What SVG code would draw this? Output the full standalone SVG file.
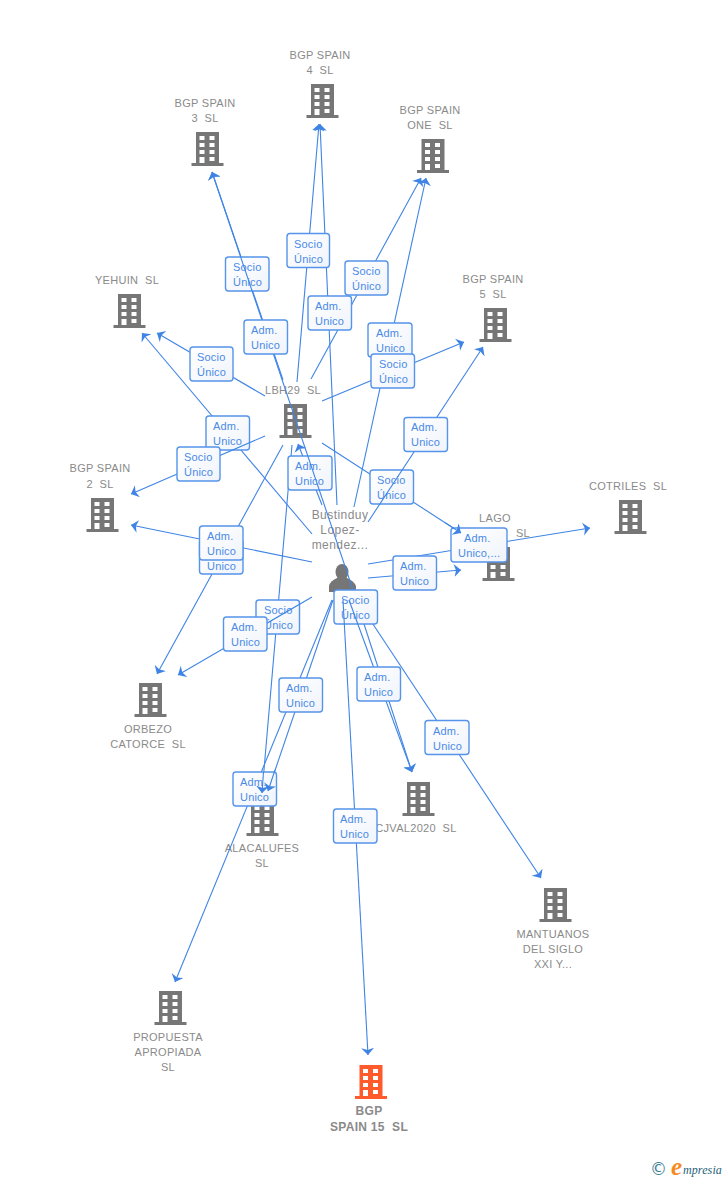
<svg xmlns="http://www.w3.org/2000/svg" width="728" height="1180" viewBox="0 0 728 1180">
<style>
text{font-family:"Liberation Sans",Arial,sans-serif}
.n{font-size:11px;fill:#8a8a8a;text-anchor:middle;white-space:pre;letter-spacing:.3px}
.r{font-size:12px;letter-spacing:.45px}
.h{font-size:12px;font-weight:bold}
.b{fill:#767676}
.o{fill:#ff5a2b}
.e{fill:none;stroke:#3f84e5;stroke-width:1.1;marker-end:url(#a)}
.l rect{fill:url(#g);stroke:#5594ea;stroke-width:1.4}
.l text{font-size:11px;fill:#4a8ae6;letter-spacing:.2px}
</style>
<defs>
<linearGradient id="g" x1="0" y1="0" x2="1" y2="1"><stop offset="0" stop-color="#ffffff"/><stop offset="1" stop-color="#f0f4fb"/></linearGradient>
<marker id="a" markerUnits="userSpaceOnUse" markerWidth="10" markerHeight="14" refX="7" refY="6.5" orient="auto"><path d="M0,0L7,6.500L0,13L2,6.500Z" fill="#3f84e5"/></marker>
<path id="bld" fill-rule="evenodd" d="M-11.500,0H11.500V31H16V34H-16V31H-11.500ZM-8,4h5v4h-5ZM2,4h5v4h-5ZM-8,11h5v4h-5ZM2,11h5v4h-5ZM-8,18h5v4h-5ZM2,18h5v4h-5ZM-8,25h5v6h-5ZM2,25h5v4h-5Z"/>
</defs>

<g id="node-bgp-spain-4"><use href="#bld" class="b" x="322.500" y="84"/><text class="n" x="320" y="59">BGP SPAIN</text><text class="n" x="320" y="74">4  SL</text></g>
<g id="node-bgp-spain-3"><use href="#bld" class="b" x="207.500" y="132"/><text class="n" x="205" y="107">BGP SPAIN</text><text class="n" x="205" y="122">3  SL</text></g>
<g id="node-bgp-spain-one"><use href="#bld" class="b" x="433" y="139"/><text class="n" x="430" y="114">BGP SPAIN</text><text class="n" x="430" y="129">ONE  SL</text></g>
<g id="node-yehuin"><use href="#bld" class="b" x="129.500" y="294"/><text class="n" x="127" y="284">YEHUIN  SL</text></g>
<g id="node-bgp-spain-5"><use href="#bld" class="b" x="495.500" y="308"/><text class="n" x="493" y="283">BGP SPAIN</text><text class="n" x="493" y="298">5  SL</text></g>
<g id="node-lbh29"><use href="#bld" class="b" x="295.500" y="404"/><text class="n" x="293" y="394">LBH29  SL</text></g>
<g id="node-bgp-spain-2"><use href="#bld" class="b" x="102.500" y="498"/><text class="n" x="100" y="472">BGP SPAIN</text><text class="n" x="100" y="488">2  SL</text></g>
<g id="node-cotriles"><use href="#bld" class="b" x="630.500" y="500"/><text class="n" x="628" y="490">COTRILES  SL</text></g>
<g id="node-lago"><use href="#bld" class="b" x="498.500" y="547"/><text class="n" x="495" y="522">LAGO</text><text class="n" x="523" y="537">SL</text></g>
<g id="node-orbezo"><use href="#bld" class="b" x="150.500" y="683"/><text class="n" x="148" y="733">ORBEZO</text><text class="n" x="148" y="748">CATORCE  SL</text></g>
<g id="node-cjval"><use href="#bld" class="b" x="418.500" y="782"/><text class="n" x="416" y="832">CJVAL2020  SL</text></g>
<g id="node-alacalufes"><use href="#bld" class="b" x="262.500" y="802"/><text class="n" x="262" y="852">ALACALUFES</text><text class="n" x="262" y="867">SL</text></g>
<g id="node-mantuanos"><use href="#bld" class="b" x="555.500" y="888"/><text class="n" x="553" y="938">MANTUANOS</text><text class="n" x="553" y="953">DEL SIGLO</text><text class="n" x="553" y="968">XXI Y...</text></g>
<g id="node-propuesta"><use href="#bld" class="b" x="170.500" y="991"/><text class="n" x="168" y="1041">PROPUESTA</text><text class="n" x="168" y="1056">APROPIADA</text><text class="n" x="168" y="1071">SL</text></g>
<g id="node-bgp-spain-15"><use href="#bld" class="o" x="371" y="1065"/><text class="n h" x="369" y="1115">BGP</text><text class="n h" x="369" y="1131">SPAIN 15  SL</text></g>
<g id="node-bustinduy"><ellipse class="b" cx="342" cy="572" rx="6.500" ry="8"/><path class="b" d="M329,592V586Q330,581 337,578H347Q354,581 356,586V592Z"/><text class="n r" x="340" y="519">Bustinduy</text><text class="n r" x="340" y="534">Lopez-</text><text class="n r" x="340" y="549">mendez...</text></g>

<g id="connectors-under">
<line class="e" x1="283" y1="380" x2="212" y2="172"/>
<line class="e" x1="312" y1="534" x2="142" y2="333"/>
<line class="e" x1="322" y1="505" x2="298" y2="444"/>
<line class="e" x1="322" y1="443" x2="461" y2="533"/>
<line class="e" x1="292" y1="445" x2="262" y2="793"/>
<line class="e" x1="352" y1="587" x2="412" y2="772"/>
<line class="e" x1="283" y1="445" x2="157" y2="674"/>
<line class="e" x1="354" y1="507" x2="426" y2="178"/>
<line class="e" x1="355" y1="597" x2="541" y2="878"/>
</g>

<g id="labels-low">
<g class="l"><rect x="225.500" y="257" width="43.500" height="34" rx="3"/><text x="233" y="271">Socio</text><text x="233" y="286">Único</text></g>
<g class="l"><rect x="206" y="416" width="43.500" height="34" rx="3"/><text x="213" y="430">Adm.</text><text x="213" y="445">Unico</text></g>
<g class="l"><rect x="288" y="456" width="44" height="34" rx="3"/><text x="295" y="470">Adm.</text><text x="295" y="485">Unico</text></g>
<g class="l"><rect x="370" y="470" width="43.500" height="34" rx="3"/><text x="377" y="484">Socio</text><text x="377" y="499">Único</text></g>
<g class="l"><rect x="256" y="600" width="43.500" height="34" rx="3"/><text x="264" y="614">Socio</text><text x="264" y="629">Único</text></g>
<g class="l"><rect x="334" y="590" width="43.500" height="34" rx="3"/><text x="341" y="604">Socio</text><text x="341" y="619">Único</text></g>
<g class="l"><rect x="199.500" y="540" width="43.500" height="34" rx="3"/><text x="207" y="570">Unico</text></g>
<g class="l"><rect x="368" y="323" width="44" height="34" rx="3"/><text x="376" y="337">Adm.</text><text x="376" y="352">Unico</text></g>
</g>

<g id="connectors">
<line class="e" x1="297" y1="382" x2="319" y2="124"/>
<line class="e" x1="311" y1="379" x2="421" y2="178"/>
<line class="e" x1="352" y1="587" x2="212" y2="172"/>
<line class="e" x1="265" y1="396" x2="157" y2="333"/>
<line class="e" x1="265" y1="436" x2="131" y2="494"/>
<line class="e" x1="322" y1="401" x2="464" y2="342"/>
<line class="e" x1="337" y1="505" x2="320" y2="124"/>
<line class="e" x1="368" y1="522" x2="483" y2="347"/>
<line class="e" x1="312" y1="562" x2="131" y2="525"/>
<line class="e" x1="312" y1="597" x2="178" y2="675"/>
<line class="e" x1="368" y1="578" x2="461" y2="570"/>
<line class="e" x1="368" y1="564" x2="590" y2="528"/>
<line class="e" x1="349" y1="600" x2="412" y2="772"/>
<line class="e" x1="333" y1="600" x2="268" y2="791"/>
<line class="e" x1="332" y1="600" x2="175" y2="982"/>
<line class="e" x1="343" y1="600" x2="368" y2="1055"/>
</g>

<g id="labels-high">
<g class="l"><rect x="287" y="233.500" width="42.500" height="34" rx="3"/><text x="294" y="248">Socio</text><text x="294" y="263">Único</text></g>
<g class="l"><rect x="345" y="261" width="43" height="34" rx="3"/><text x="352" y="275">Socio</text><text x="352" y="290">Único</text></g>
<g class="l"><rect x="308" y="296" width="43.500" height="34" rx="3"/><text x="315" y="310">Adm.</text><text x="315" y="325">Unico</text></g>
<g class="l"><rect x="244" y="320" width="43.500" height="34" rx="3"/><text x="251" y="334">Adm.</text><text x="251" y="349">Unico</text></g>
<g class="l"><rect x="371" y="354" width="43.500" height="34" rx="3"/><text x="379" y="368">Socio</text><text x="379" y="383">Único</text></g>
<g class="l"><rect x="190" y="347" width="43" height="34" rx="3"/><text x="197" y="361">Socio</text><text x="197" y="376">Único</text></g>
<g class="l"><rect x="404" y="417.500" width="43.500" height="34" rx="3"/><text x="411" y="431">Adm.</text><text x="411" y="446">Unico</text></g>
<g class="l"><rect x="177" y="447" width="43" height="34" rx="3"/><text x="184" y="461">Socio</text><text x="184" y="476">Único</text></g>
<g class="l"><rect x="451" y="528" width="56" height="34" rx="3"/><text x="464" y="542">Adm.</text><text x="458" y="557">Unico,...</text></g>
<g class="l"><rect x="393" y="556" width="43.500" height="34" rx="3"/><text x="400" y="570">Adm.</text><text x="400" y="585">Unico</text></g>
<g class="l"><rect x="199.500" y="526" width="43.500" height="34" rx="3"/><text x="207" y="540">Adm.</text><text x="207" y="555">Unico</text></g>
<g class="l"><rect x="223.500" y="617" width="43.500" height="34" rx="3"/><text x="231" y="631">Adm.</text><text x="231" y="646">Unico</text></g>
<g class="l"><rect x="357" y="667" width="43.500" height="34" rx="3"/><text x="364" y="681">Adm.</text><text x="364" y="696">Unico</text></g>
<g class="l"><rect x="279" y="678" width="43.500" height="34" rx="3"/><text x="286" y="692">Adm.</text><text x="286" y="707">Unico</text></g>
<g class="l"><rect x="425" y="720.500" width="44" height="34" rx="3"/><text x="433" y="735">Adm.</text><text x="433" y="750">Unico</text></g>
<g class="l"><rect x="233" y="772" width="43.500" height="34" rx="3"/><text x="240" y="786">Adm.</text><text x="240" y="801">Unico</text></g>
<g class="l"><rect x="333.500" y="809" width="43.500" height="34" rx="3"/><text x="340" y="823">Adm.</text><text x="340" y="838">Unico</text></g>
</g>

<g id="connectors-top">
<line class="e" x1="445" y1="522.600" x2="461" y2="533"/>
<line class="e" x1="263.500" y1="772" x2="262" y2="793"/>
<line class="e" x1="275" y1="770" x2="268" y2="791"/>
</g>

<g id="logo"><text x="650" y="1175" font-size="17" fill="#3d7f96" style="font-family:'DejaVu Sans',sans-serif">©</text><text x="671" y="1175" font-size="25" font-weight="bold" fill="#f58a1f" font-style="italic" style="font-family:'Liberation Serif',serif">e</text><text x="683" y="1174" font-size="12" letter-spacing=".1" fill="#1f5f7a" font-style="italic" style="font-family:'Liberation Serif',serif">mpresia</text></g>
</svg>
